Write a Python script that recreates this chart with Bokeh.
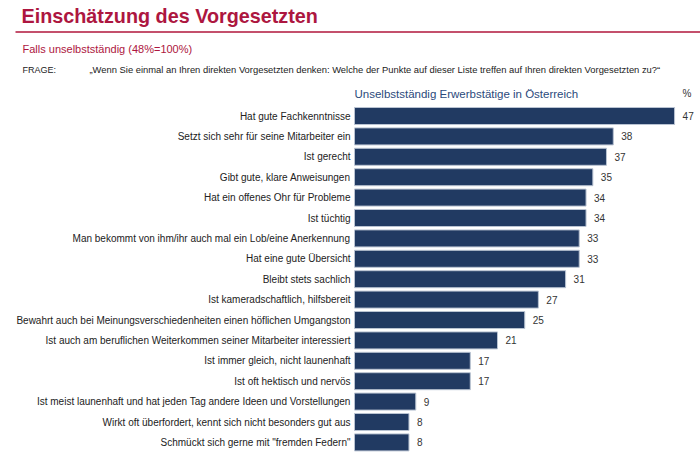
from bokeh.plotting import figure
from bokeh.models import Range1d, Label, ColumnDataSource
from bokeh.core.properties import value
from bokeh.embed import file_html
from bokeh.resources import INLINE

# Survey items (top to bottom) and share of respondents in %
items = [
    "Hat gute Fachkenntnisse",
    "Setzt sich sehr für seine Mitarbeiter ein",
    "Ist gerecht",
    "Gibt gute, klare Anweisungen",
    "Hat ein offenes Ohr für Probleme",
    "Ist tüchtig",
    "Man bekommt von ihm/ihr auch mal ein Lob/eine Anerkennung",
    "Hat eine gute Übersicht",
    "Bleibt stets sachlich",
    "Ist kameradschaftlich, hilfsbereit",
    "Bewahrt auch bei Meinungsverschiedenheiten einen höflichen Umgangston",
    "Ist auch am beruflichen Weiterkommen seiner Mitarbeiter interessiert",
    "Ist immer gleich, nicht launenhaft",
    "Ist oft hektisch und nervös",
    "Ist meist launenhaft und hat jeden Tag andere Ideen und Vorstellungen",
    "Wirkt oft überfordert, kennt sich nicht besonders gut aus",
    "Schmückt sich gerne mit \"fremden Federn\"",
]
shares = [47, 38, 37, 35, 34, 34, 33, 33, 31, 27, 25, 21, 17, 17, 9, 8, 8]

title_text = "Einschätzung des Vorgesetzten"
subtitle_text = "Falls unselbstständig (48%=100%)"
question_label = "FRAGE:"
question_text = ("„Wenn Sie einmal an Ihren direkten Vorgesetzten denken: Welche der Punkte "
                 "auf dieser Liste treffen auf Ihren direkten Vorgesetzten zu?“")
series_name = "Unselbstständig Erwerbstätige in Österreich"
unit_text = "%"

W, H = 700, 452
FONT = "Liberation Sans"
CRIMSON = "#ad1640"
NAVY = "#213a62"

# geometry of the bar area (pixels)
x0_px = 354.0          # where bars start
px_per_unit = 6.81     # horizontal scale
row0_px = 115.5        # centre of first row from top
pitch_px = 20.4        # row spacing

rows = list(range(len(items)))
src = ColumnDataSource(dict(
    row=rows,
    share=shares,
    item=items,
    share_txt=[str(v) for v in shares],
))

p = figure(
    width=W, height=H,
    output_backend="svg", toolbar_location=None,
    x_range=Range1d(-x0_px / px_per_unit, (W - x0_px) / px_per_unit),
    y_range=Range1d((H - row0_px) / pitch_px, -row0_px / pitch_px),
    min_border=0, min_border_left=0, min_border_right=0,
    min_border_top=0, min_border_bottom=0,
)
p.axis.visible = False
p.grid.visible = False
p.outline_line_color = None
p.background_fill_color = "white"
p.border_fill_color = "white"

# bars
p.hbar(y="row", left=0, right="share", height=17 / pitch_px, source=src,
       fill_color=NAVY, line_color="#b9c3d2", line_width=1)

# item labels, right aligned before the bars
p.text(x=-4 / px_per_unit, y="row", text="item", source=src,
       text_align="right", text_baseline="middle",
       text_font=value(FONT), text_font_size="10px", text_color="#222222")

# value labels after the bars
p.text(x="share", y="row", text="share_txt", source=src,
       x_offset=8, text_align="left", text_baseline="middle",
       text_font=value(FONT), text_font_size="10px", text_color="#333333")

# header block, placed in screen units (origin bottom-left)
def lab(x, y_top, text, size, color, bold=False):
    p.add_layout(Label(
        x=x, y=H - y_top, x_units="screen", y_units="screen", text=text,
        text_font=FONT, text_font_size=size, text_color=color,
        text_font_style="bold" if bold else "normal",
        text_baseline="middle", text_align="left",
    ))

lab(21, 15, title_text, "19.8px", CRIMSON, bold=True)
lab(22, 48, subtitle_text, "11px", CRIMSON)
lab(22, 69, question_label, "9px", "#222222")
lab(89, 69, question_text, "9.4px", "#222222")
lab(354, 93, series_name, "11.5px", "#2b4a7c")
lab(682, 93, unit_text, "10px", "#333333")

# rule under the title
rule_y = (31.5 - row0_px) / pitch_px
p.segment(x0=(15 - x0_px) / px_per_unit, x1=(W - x0_px) / px_per_unit,
          y0=rule_y, y1=rule_y, line_color="#c4506c", line_width=2)

open("out.html", "w").write(file_html(p, INLINE))
